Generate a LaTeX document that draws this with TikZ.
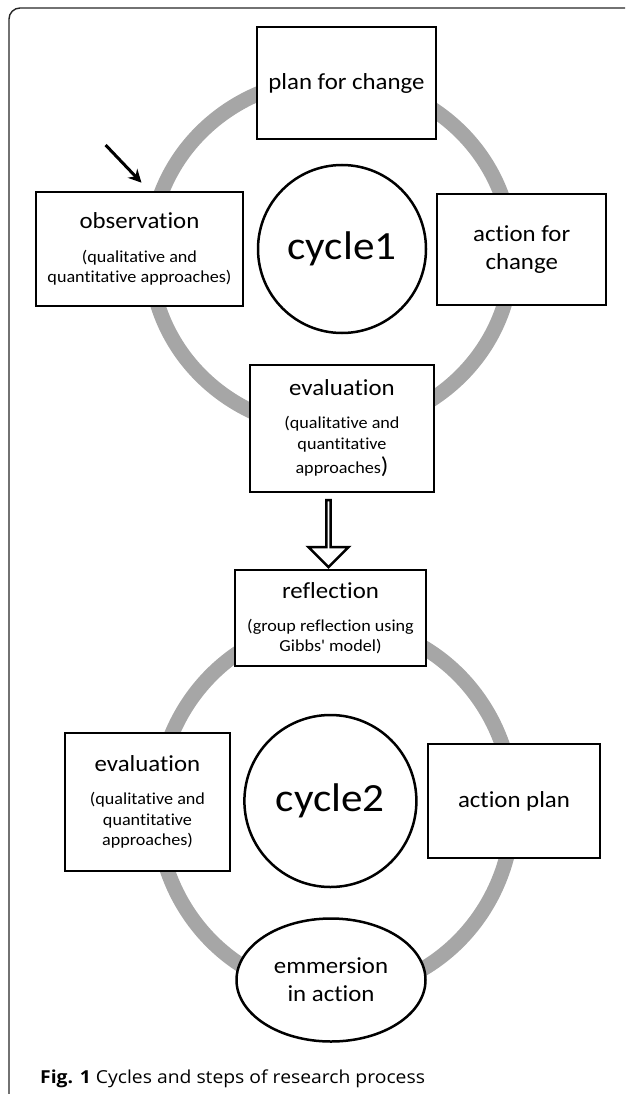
\documentclass[tikz,border=0pt]{standalone}
\usepackage{fontspec}
\newfontfamily\diafont[FakeStretch=1.08,Ligatures=NoCommon]{Carlito}
\newfontfamily\capfont[FakeStretch=1.08]{Open Sans}
\usetikzlibrary{shapes.geometric,shapes.arrows,arrows.meta}
\definecolor{ringgray}{HTML}{A6A6A6}
\newcommand\bigtxt{\fontsize{23}{20.5}\selectfont}
\newcommand\bigsz{\fontsize{23}{20.5}\selectfont}
\newcommand\smtxt{\fontsize{16.8}{20.5}\selectfont}
\newcommand\cyctxt{\fontsize{40}{48}\selectfont}
\begin{document}
\begin{tikzpicture}[x=1pt,y=-1pt,
  box/.style={rectangle, draw=black, line width=2.5pt, fill=white, inner sep=0pt, align=center, font=\diafont\bigtxt},
  oval/.style={ellipse, draw=black, line width=2.5pt, fill=white, inner sep=0pt, align=center, font=\diafont\bigtxt},
  hub/.style={circle, draw=black, line width=2.5pt, fill=white, inner sep=0pt, font=\diafont\cyctxt},
  ringline/.style={draw=ringgray, line width=15pt},
  frameline/.style={draw=black!85, line width=1.4pt},
  pointer/.style={draw=black, line width=3pt, -{Stealth[length=13pt,width=13pt]}},
  flowarrow/.style={single arrow, draw=black, line width=2.5pt, fill=white, inner sep=0pt,
    minimum width=40pt, single arrow head extend=11pt, minimum height=67pt, shape border rotate=270}
]
\useasboundingbox (0,0) rectangle (625,1094);
\draw[frameline, rounded corners=11pt] (9,1094) -- (9,8) -- (625,8);

% rings
\draw[ringline] (331,254) ellipse [x radius=181, y radius=175];
\draw[ringline] (335,808) ellipse [x radius=178, y radius=185];

% cycle 1
\node[box, minimum width=179pt, minimum height=112pt] (plan) at (346.5,83) {plan for change};
\node[box, minimum width=207pt, minimum height=114pt] (obs) at (139.5,249)
  {observation\\[13.5pt]\smtxt (qualitative and\\\smtxt quantitative approaches)};
\node[hub, minimum size=168pt] (c1) at (342,249) {cycle1};
\node[box, minimum width=169pt, minimum height=111pt] (act) at (521.7,249.5) {action for\\[7.5pt]change};
\node[box, minimum width=184pt, minimum height=127pt] (ev1) at (342,428.5)
  {evaluation\\[12.5pt]\smtxt (qualitative and\\\smtxt quantitative\\[4pt]\smtxt approaches{\bigsz )}};

\coordinate (ps) at (105.6,145);
\coordinate (pe) at (141.5,182.7);
\draw[pointer] (ps) -- (pe);

% transition
\node[flowarrow] (flow) at (328.5,532.5) {};

% cycle 2
\node[box, minimum width=191pt, minimum height=96pt] (refl) at (330.5,618)
  {reflection\\[12.5pt]\smtxt (group reflection using\\\smtxt Gibbs' model)};
\node[box, minimum width=165pt, minimum height=138pt] (ev2) at (147.5,802)
  {evaluation\\[12.5pt]\smtxt (qualitative and\\\smtxt quantitative\\\smtxt approaches)};
\node[hub, minimum size=172pt] (c2) at (330.4,801) {cycle2};
\node[box, minimum width=172pt, minimum height=114pt] (ap) at (514,801) {action plan};
\node[oval, minimum width=189pt, minimum height=123pt] (em) at (331,980) {emmersion\\[7.5pt]in action};

\node[anchor=base west, inner sep=0pt, font=\capfont\fontsize{17.9}{20}\selectfont] (cap) at (40,1083)
  {\textbf{Fig. 1} Cycles and steps of research process};
\end{tikzpicture}
\end{document}
